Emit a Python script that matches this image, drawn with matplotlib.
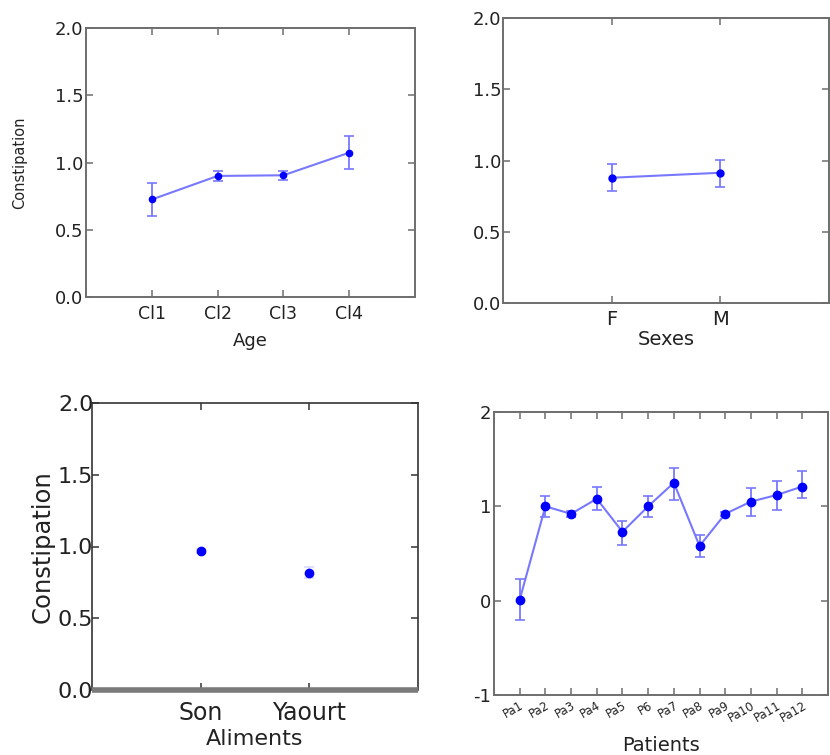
import matplotlib
matplotlib.use("Agg")
import matplotlib.pyplot as plt
import numpy as np

plt.rcParams['font.family'] = ['DejaVu Sans']
plt.rcParams['axes.unicode_minus'] = False

# mean constipation score with lower / upper bounds of the error bars
age_cat = ["Cl1", "Cl2", "Cl3", "Cl4"]
age_mean = [0.725, 0.90, 0.905, 1.073]
age_low = [0.60, 0.865, 0.87, 0.95]
age_high = [0.85, 0.935, 0.94, 1.197]

sex_cat = ["F", "M"]
sex_mean = [0.879, 0.914]
sex_low = [0.788, 0.811]
sex_high = [0.973, 1.006]

food_cat = ["Son", "Yaourt"]
food_mean = [0.967, 0.816]
food_low = [0.955, 0.78]
food_high = [0.98, 0.86]

pat_cat = ["Pa1", "Pa2", "Pa3", "Pa4", "Pa5", "P6", "Pa7", "Pa8", "Pa9",
           "Pa10", "Pa11", "Pa12"]
pat_mean = [0.01, 1.0, 0.92, 1.08, 0.73, 1.0, 1.25, 0.58, 0.92, 1.05, 1.12, 1.21]
pat_low = [-0.21, 0.89, 0.89, 0.96, 0.59, 0.89, 1.07, 0.46, 0.90, 0.90, 0.96, 1.09]
pat_high = [0.23, 1.11, 0.95, 1.20, 0.84, 1.11, 1.41, 0.70, 0.94, 1.19, 1.27, 1.37]

LINE = '#7878ff'
DOT = '#0000ff'
SPINE = '#6e6e6e'
TXT = '#222222'

W, H = 830, 755
fig = plt.figure(figsize=(W / 100, H / 100), dpi=100)


def box(l, r, t, b):
    return [l / W, 1 - b / H, (r - l) / W, (b - t) / H]


def errs(mean, low, high):
    mean = np.array(mean)
    return [mean - np.array(low), np.array(high) - mean]


def style(ax, color=SPINE, lw=1.4, tick_fs=13, pad=3):
    for s in ax.spines.values():
        s.set_color(color)
        s.set_linewidth(lw)
    ax.tick_params(direction='in', top=True, right=True, length=5,
                   width=1.1, color=color, labelsize=tick_fs,
                   labelcolor=TXT, pad=pad)


def series(ax, cats, mean, low, high, line=True, ecolor=LINE, ms=5):
    x = np.arange(1, len(cats) + 1)
    ax.errorbar(x, mean, yerr=errs(mean, low, high), fmt='none',
                ecolor=ecolor, elinewidth=1.3, capsize=3.5, capthick=1.2)
    if line:
        ax.plot(x, mean, color=LINE, lw=1.5)
    ax.plot(x, mean, 'o', color=DOT, ms=ms, mec=DOT)
    ax.set_xticks(x)
    ax.set_xticklabels(cats)
    ax.set_xlim(0, len(cats) + 1)


# Age
ax1 = fig.add_axes(box(86, 415, 28, 297))
series(ax1, age_cat, age_mean, age_low, age_high, ms=4.5)
ax1.set_ylim(0, 2)
ax1.set_yticks([0, 0.5, 1.0, 1.5, 2.0])
ax1.set_yticklabels(["0.0", "0.5", "1.0", "1.5", "2.0"])
style(ax1, tick_fs=13, pad=2)
ax1.tick_params(axis='x', labelsize=12.5, pad=6)
ax1.set_xlabel("Age", fontsize=13, color=TXT, labelpad=6)
ax1.set_ylabel("Constipation", fontsize=10.5, color=TXT, labelpad=20)

# Sexes
ax2 = fig.add_axes(box(503, 829, 18, 303))
series(ax2, sex_cat, sex_mean, sex_low, sex_high)
ax2.set_ylim(0, 2)
ax2.set_yticks([0, 0.5, 1.0, 1.5, 2.0])
ax2.set_yticklabels(["0.0", "0.5", "1.0", "1.5", "2.0"])
style(ax2, tick_fs=13, pad=1)
ax2.tick_params(axis='x', labelsize=14, pad=5)
ax2.set_xlabel("Sexes", fontsize=14, color=TXT, labelpad=1)

# Aliments
ax3 = fig.add_axes(box(92, 418, 403, 690))
series(ax3, food_cat, food_mean, food_low, food_high, line=False,
       ecolor='#d8d8ff', ms=6)
ax3.set_ylim(0, 2)
ax3.set_yticks([0, 0.5, 1.0, 1.5, 2.0])
ax3.set_yticklabels(["0.0", "0.5", "1.0", "1.5", "2.0"])
style(ax3, color='#333333', lw=1.2, tick_fs=16, pad=-1)
ax3.spines['bottom'].set_color('#7a7a7a')
ax3.spines['bottom'].set_linewidth(4)
ax3.spines['bottom'].set_capstyle('butt')
ax3.tick_params(axis='x', labelsize=17, pad=8)
ax3.set_xlabel("Aliments", fontsize=16, color=TXT, labelpad=3)
ax3.set_ylabel("Constipation", fontsize=17.5, color=TXT, labelpad=2)

# Patients
ax4 = fig.add_axes(box(494, 828, 412, 695))
series(ax4, pat_cat, pat_mean, pat_low, pat_high, ms=6)
ax4.set_xlim(0, 13)
ax4.set_ylim(-1, 2)
ax4.set_yticks([-1, 0, 1, 2])
style(ax4, tick_fs=13, pad=2)
ax4.tick_params(axis='x', labelsize=8.5, pad=3)
for lab in ax4.get_xticklabels():
    lab.set_rotation(30)
    lab.set_ha('right')
    lab.set_rotation_mode('anchor')
ax4.set_xlabel("Patients", fontsize=14, color=TXT, labelpad=8)

fig.savefig("out.png", dpi=100)
